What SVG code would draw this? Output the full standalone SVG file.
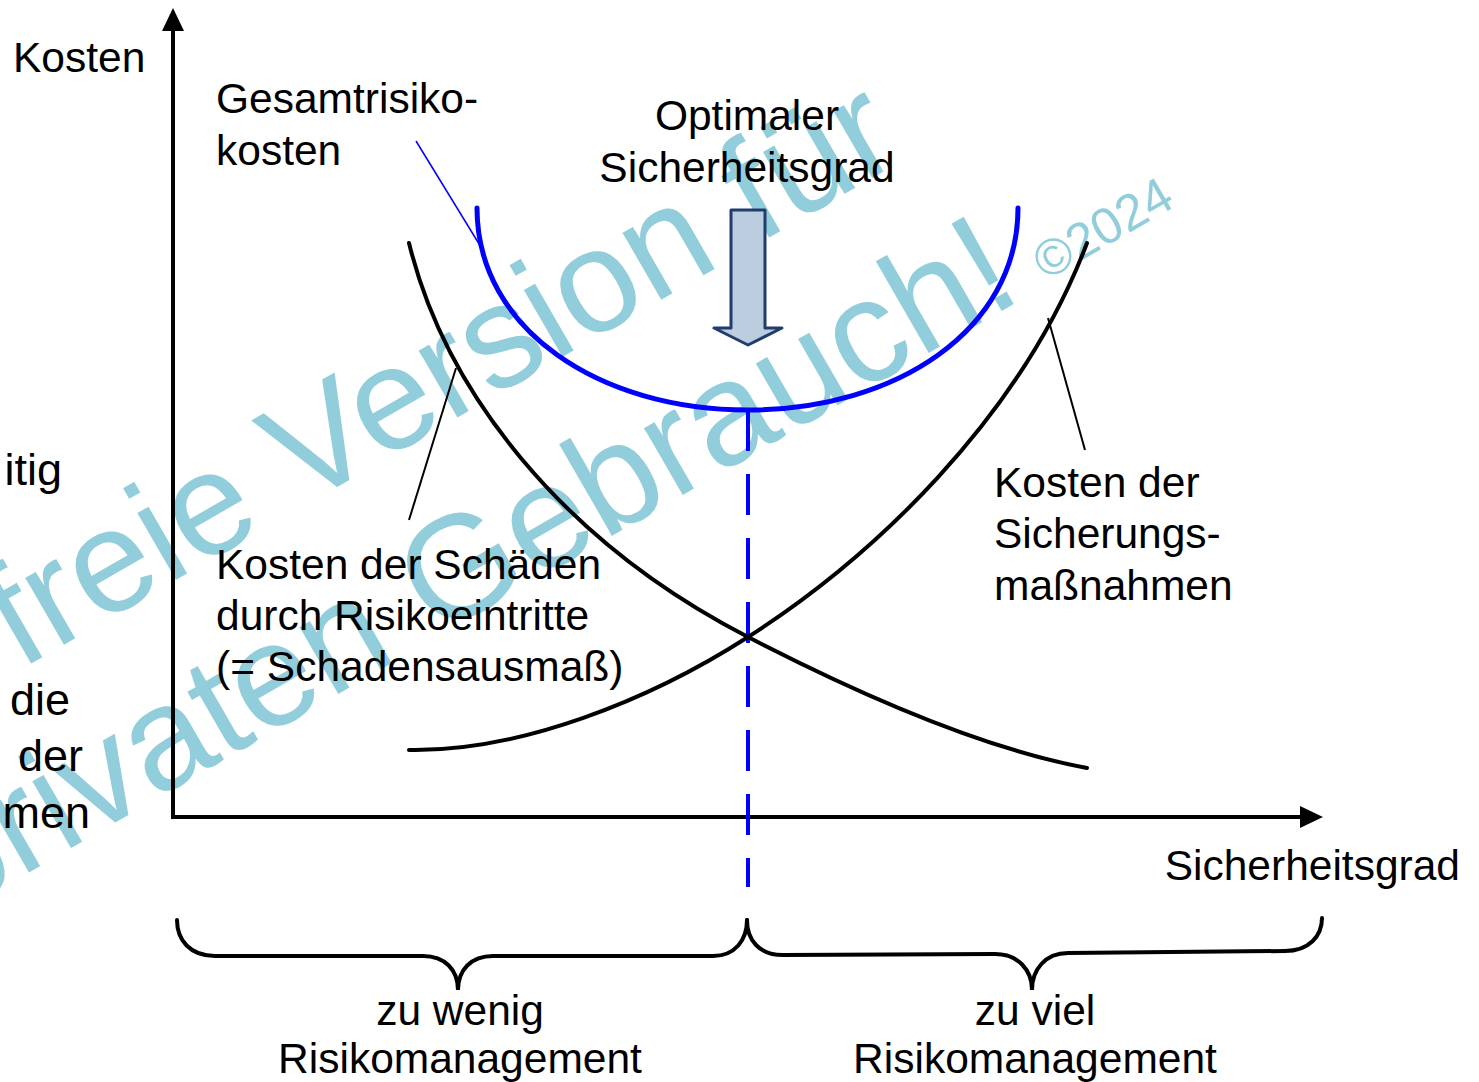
<svg xmlns="http://www.w3.org/2000/svg" width="1479" height="1082" viewBox="0 0 1479 1082">
<style>
.t{font-family:"Liberation Sans",Arial,sans-serif;font-size:42.5px;fill:#000}
.tl{font-family:"Liberation Sans",Arial,sans-serif;font-size:45px;fill:#000}
.wm{font-family:"Liberation Sans",Arial,sans-serif;fill:#92cddc}
.curve{fill:none;stroke:#000;stroke-width:4;stroke-linecap:round}
.lead{fill:none;stroke:#000;stroke-width:2}
</style>
<rect width="1479" height="1082" fill="#fff"/>
<g id="watermark">
<text class="wm" font-size="146" transform="translate(20,670) rotate(-30)">freie Version für</text>
<text class="wm" font-size="146" transform="translate(-50,918) rotate(-30)">privaten Gebrauch!</text>
<text class="wm" font-size="51" transform="translate(1046,281) rotate(-30)">©2024</text>
</g>
<g id="left-partial">
<text class="tl" x="62" y="485" text-anchor="end">itig</text>
<text class="tl" x="70" y="715" text-anchor="end">die</text>
<text class="tl" x="83" y="771" text-anchor="end">der</text>
<text class="tl" x="90" y="828" text-anchor="end">men</text>
</g>
<g id="axes">
<line x1="173" y1="817" x2="173" y2="28" stroke="#000" stroke-width="4"/>
<polygon points="173,8 162,31 184,31" fill="#000"/>
<line x1="171" y1="817" x2="1302" y2="817" stroke="#000" stroke-width="4"/>
<polygon points="1323,817 1300,806 1300,828" fill="#000"/>
<text class="t" x="13" y="72">Kosten</text>
<text class="t" x="1460" y="880" text-anchor="end">Sicherheitsgrad</text>
</g>
<g id="connectors">
<line x1="416" y1="141" x2="484" y2="252" stroke="#0000ff" stroke-width="1.5"/>
<line class="lead" x1="456" y1="368" x2="409" y2="520"/>
<line class="lead" x1="1048" y1="318" x2="1085" y2="450"/>
<line x1="748" y1="410" x2="748" y2="887" stroke="#0000ff" stroke-width="4" stroke-dasharray="41 23"/>
</g>
<g id="curve-gesamt">
<path d="M477,208 C477,330 600,410 748,410 C896,410 1018,330 1018,208" fill="none" stroke="#0000ff" stroke-width="5" stroke-linecap="round"/>
</g>
<g id="curve-schaeden">
<path class="curve" d="M409,243 C445,390 560,540 748,637 C870,700 990,750 1087,768"/>
</g>
<g id="curve-sicherung">
<path class="curve" d="M409,750 C520,752 650,700 748,637 C870,559 1020,420 1087,243"/>
</g>
<g id="optimum-arrow">
<path d="M731,210 L765,210 L765,328 L782,328 L748,345 L714,328 L731,328 Z" fill="#bccde0" stroke="#203d6e" stroke-width="3" stroke-linejoin="round"/>
</g>
<g id="label-gesamt">
<text class="t" x="216" y="113">Gesamtrisiko-</text>
<text class="t" x="216" y="165">kosten</text>
</g>
<g id="label-optimal">
<text class="t" x="747" y="130" text-anchor="middle">Optimaler</text>
<text class="t" x="747" y="182" text-anchor="middle">Sicherheitsgrad</text>
</g>
<g id="label-sicherung">
<text class="t" x="994" y="497">Kosten der</text>
<text class="t" x="994" y="548">Sicherungs-</text>
<text class="t" x="994" y="600">maßnahmen</text>
</g>
<g id="label-schaeden">
<text class="t" x="216" y="579">Kosten der Schäden</text>
<text class="t" x="216" y="630">durch Risikoeintritte</text>
<text class="t" x="216" y="681">(= Schadensausmaß)</text>
</g>
<g id="brace-wenig">
<path class="curve" d="M177,920 C177,940 190,956 215,956 L423,956 C445,956 458,970 458,990 C458,970 471,956 493,956 L713,956 C735,956 747,940 747,920"/>
<text class="t" x="460" y="1025" text-anchor="middle">zu wenig</text>
<text class="t" x="460" y="1073" text-anchor="middle">Risikomanagement</text>
</g>
<g id="brace-viel">
<path class="curve" d="M747,920 C747,940 759,955 783,955 L995,954 C1018,954 1032,970 1032,990 C1032,970 1045,953 1068,953 L1285,951 C1309,951 1322,936 1322,918"/>
<text class="t" x="1035" y="1025" text-anchor="middle">zu viel</text>
<text class="t" x="1035" y="1073" text-anchor="middle">Risikomanagement</text>
</g>
</svg>
